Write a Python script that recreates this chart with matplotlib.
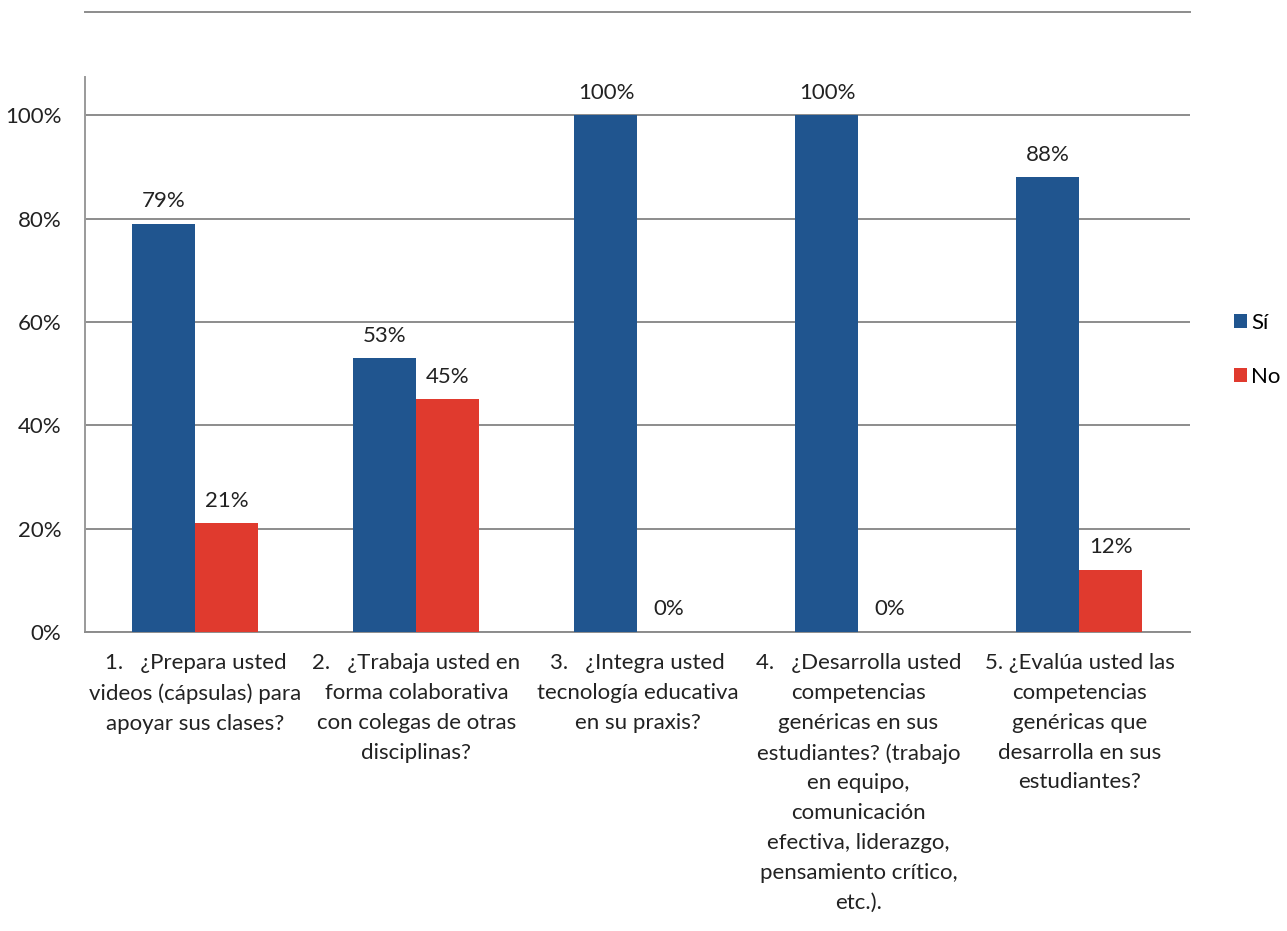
import numpy as np
import matplotlib.pyplot as plt
from matplotlib.ticker import PercentFormatter

# Data
categorias = [
    "1.   ¿Prepara usted\nvideos (cápsulas) para\napoyar sus clases?",
    "2.   ¿Trabaja usted en\nforma colaborativa\ncon colegas de otras\ndisciplinas?",
    "3.   ¿Integra usted\ntecnología educativa\nen su praxis?",
    "4.   ¿Desarrolla usted\ncompetencias\ngenéricas en sus\nestudiantes? (trabajo\nen equipo,\ncomunicación\nefectiva, liderazgo,\npensamiento crítico,\netc.).",
    "5. ¿Evalúa usted las\ncompetencias\ngenéricas que\ndesarrolla en sus\nestudiantes?",
]
si = [79, 53, 100, 100, 88]
no = [21, 45, 0, 0, 12]
series = ["Sí", "No"]

plt.rcParams["font.family"] = ["Lato", "DejaVu Sans"]
plt.rcParams["font.size"] = 16

fig = plt.figure(figsize=(12.87, 9.31), dpi=100)
ax = fig.add_axes([0.066, 0.3212, 0.8586, 0.6659])

x = np.arange(len(categorias))
w = 0.285
azul = "#20558f"
rojo = "#e03a2e"
b1 = ax.bar(x - w / 2, si, w, color=azul, label=series[0], zorder=3)
b2 = ax.bar(x + w / 2, no, w, color=rojo, label=series[1], zorder=3)

for bars in (b1, b2):
    for b in bars:
        ax.annotate("%d%%" % b.get_height(),
                    (b.get_x() + b.get_width() / 2, b.get_height()),
                    xytext=(0, 9), textcoords="offset points",
                    ha="center", va="bottom", color="#222222", fontsize=16)

ax.set_xlim(-0.5, len(categorias) - 0.5)
ax.set_ylim(0, 120)
ax.set_yticks(np.arange(0, 101, 20))
ax.yaxis.set_major_formatter(PercentFormatter(decimals=0))
ax.grid(axis="y", color="#8c8c8c", linewidth=1.4, zorder=0)
ax.axhline(120, color="#8c8c8c", linewidth=1.4, zorder=0, clip_on=False)

ax.set_xticks(x)
ax.set_xticklabels(categorias, linespacing=1.62, color="#222222")
ax.tick_params(axis="both", length=0, labelcolor="#222222")
ax.tick_params(axis="x", pad=15)
ax.tick_params(axis="y", pad=17)

for s in ("top", "right"):
    ax.spines[s].set_visible(False)
ax.spines["bottom"].set_color("#8c8c8c")
ax.spines["bottom"].set_linewidth(1.4)
ax.spines["left"].set_color("#9a9a9a")
ax.spines["left"].set_linewidth(1.4)
ax.spines["left"].set_bounds(0, 107.5)

ax.legend(loc="center left", bbox_to_anchor=(1.04, 0.455), frameon=False,
          borderpad=0, borderaxespad=0,
          handlelength=0.6, handleheight=0.6, handletextpad=0.15,
          labelspacing=1.5, fontsize=16)

fig.savefig("out.png", dpi=100, facecolor="white")
